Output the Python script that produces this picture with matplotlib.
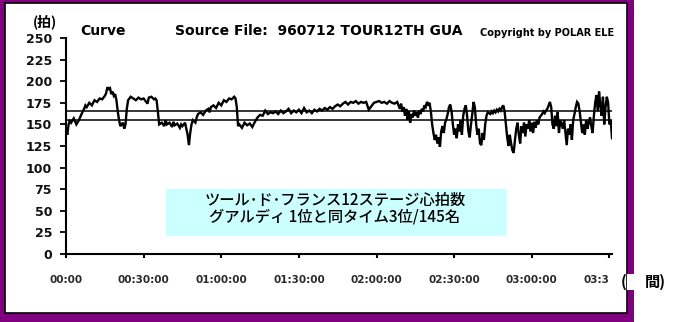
import matplotlib
matplotlib.use('Agg')
import matplotlib.pyplot as plt
from matplotlib.patches import Rectangle

# heart rate trace (elapsed minutes, beats per minute)
# first part: the steadier half of the stage
minutes_a = [
    0, 0.5, 1, 1.5, 2, 3, 4, 5, 6, 7, 7.5, 8, 9, 10, 11, 12, 13, 14, 15, 15.5,
    16, 16.5, 17, 17.5, 18, 18.5, 19, 19.5, 20, 20.5, 21, 21.5, 22, 22.5, 23, 23.5,
    24, 25, 26, 27, 28, 29, 30, 31, 31.5, 32, 33, 34, 34.5, 35, 35.5, 36, 37, 38,
    38.5, 39, 40, 41, 41.5, 42, 43, 44, 44.5, 45, 46, 46.5, 47, 47.5, 48, 48.5, 49,
    50, 50.5, 51, 52, 53, 54, 55, 55.5, 56, 57, 58, 59, 60, 61, 62, 63, 64, 65, 65.5,
    66, 66.5, 67, 68, 69, 70, 71, 72, 73, 74, 75, 76, 77, 78, 79, 80, 81, 82, 83,
    84, 85, 86, 87, 88, 89, 90, 91, 92, 93, 94, 95, 96, 97, 98, 99, 100, 101, 102,
    103, 104, 105, 106, 107, 108, 109, 110, 111, 112, 113, 114, 115, 116, 117, 118,
    119, 120, 121, 122, 123, 124, 125, 126, 127, 128,
]
bpm_a = [
    145, 138, 150, 155, 152, 157, 150, 155, 162, 168, 172, 170, 175, 172, 178, 176, 180, 179, 183, 186,
    193, 191, 192, 185, 188, 183, 185, 178, 165, 155, 148, 150, 152, 145, 150, 168,
    178, 182, 180, 178, 181, 179, 180, 176, 174, 181, 182, 179, 180, 178, 165, 150, 152, 148,
    155, 150, 152, 147, 153, 149, 151, 146, 150, 148, 152, 145, 138, 126, 140, 150, 155,
    152, 158, 162, 164, 161, 166, 168, 164, 170, 172, 169, 175, 172, 178, 176, 180, 179, 182, 180,
    170, 148, 150, 146, 152, 149, 151, 147, 153, 158, 161, 160, 166, 162, 164, 163, 165, 162, 166,
    163, 165, 168, 163, 166, 164, 167, 163, 169, 164, 166, 163, 167, 165, 168, 166, 169, 167, 170,
    168, 171, 173, 171, 174, 176, 173, 176, 175, 177, 174, 176, 175, 176, 167, 171,
    175, 176, 177, 175, 176, 174, 177, 175, 174, 176,
]
# second part: half-minute samples from 128.5 min to the finish
bpm_b = [
    172, 168, 174, 165, 170, 160, 168, 155, 165, 152,
    162, 158, 166, 160, 164, 158, 166, 162, 168, 165,
    172, 170, 176, 173, 175, 165, 150, 140, 132, 138,
    128, 135, 124, 142, 148, 140, 152, 156, 162, 170,
    173, 165, 150, 138, 145, 134, 150, 142, 155, 138,
    160, 168, 172, 160, 142, 135, 150, 162, 176, 170,
    150, 138, 145, 128, 126, 140, 132, 150, 160, 164,
    163, 162, 165, 163, 166, 164, 167, 165, 168, 166,
    170, 172, 165, 150, 135, 125, 138, 128, 120, 117,
    132, 145, 152, 138, 128, 148, 140, 152, 136, 150,
    145, 155, 142, 152, 140, 153, 146, 155, 150, 158,
    160, 162, 165, 163, 166, 168, 172, 176, 170, 150,
    145, 160, 148, 164, 140, 155, 150, 145, 155, 140,
    126, 145, 138, 150, 132, 155, 162, 170, 176, 174,
    165, 152, 140, 150, 138, 155, 145, 152, 158, 148,
    140, 160, 175, 184, 165, 188, 172, 160, 182, 150,
    170, 182, 175, 150, 155, 134,
]
minutes_b = [128.5 + 0.5 * i for i in range(len(bpm_b))]
minutes = minutes_a + minutes_b
bpm = bpm_a + bpm_b

limit_lines = [155, 165]
x_ticks = [0, 30, 60, 90, 120, 150, 180, 210]
x_labels = ['00:00', '00:30:00', '01:00:00', '01:30:00', '02:00:00',
            '02:30:00', '03:00:00', '03:3']
y_ticks = [0, 25, 50, 75, 100, 125, 150, 175, 200, 225, 250]

W, H = 678, 322
CJK = ['Noto Sans CJK JP', 'DejaVu Sans']


def fx(x):
    return x / W


def fy(y):
    return 1 - y / H


fig = plt.figure(figsize=(W / 100, H / 100), dpi=100, facecolor='white')

# purple frame and white panel
fig.patches.append(Rectangle((0, 0), fx(634), 1, transform=fig.transFigure,
                             facecolor='#800080', edgecolor='none', zorder=-3))
fig.patches.append(Rectangle((fx(5), fy(313)), fx(627) - fx(5), fy(3) - fy(313),
                             transform=fig.transFigure, facecolor='white',
                             edgecolor='black', lw=1.2, zorder=-2))

ax = fig.add_axes([fx(66), fy(254), fx(612) - fx(66), fy(38) - fy(254)])
ax.set_facecolor('none')
ax.plot(minutes, bpm, color='black', lw=1.7, solid_joinstyle='miter')
for v in limit_lines:
    ax.axhline(v, color='black', lw=1.1)

ax.set_xlim(0, 211)
ax.set_ylim(0, 250)
for s in ['top', 'right']:
    ax.spines[s].set_visible(False)
for s in ['left', 'bottom']:
    ax.spines[s].set_linewidth(1.5)
ax.set_yticks(y_ticks)
ax.set_yticklabels([str(v) for v in y_ticks], fontsize=9, fontweight='bold', color='#111111')
ax.set_xticks(x_ticks)
ax.set_xticklabels(x_labels, fontsize=7.5, fontweight='bold', color='#2a2a2a')
ax.get_xticklabels()[-1].set_ha('right')
ax.tick_params(axis='y', length=4, width=1.3, pad=6)
ax.tick_params(axis='x', length=3, width=1.5, pad=12)

# header
fig.text(fx(33), fy(22), '(拍)', family=CJK, fontsize=10, fontweight='bold', va='center')
fig.text(fx(80), fy(31), 'Curve', fontsize=10, fontweight='bold', va='center')
fig.text(fx(175), fy(31), 'Source File:  960712 TOUR12TH GUA', fontsize=10,
         fontweight='bold', va='center')
fig.text(fx(480), fy(33), 'Copyright by POLAR ELE', fontsize=7, fontweight='bold',
         va='center')

# caption box
fig.patches.append(Rectangle((fx(166), fy(236)), fx(507) - fx(166), fy(189) - fy(236),
                             transform=fig.transFigure, facecolor='#ccffff',
                             edgecolor='none', zorder=1))
fig.text(fx(335), fy(200), 'ツール･ド･フランス12ステージ心拍数', family=CJK,
         fontsize=11, fontweight='medium', ha='center', va='center')
fig.text(fx(335), fy(217), 'グアルディ 1位と同タイム3位/145名', family=CJK,
         fontsize=11, fontweight='medium', ha='center', va='center')

# x unit label sitting over the frame
fig.patches.append(Rectangle((fx(627), fy(290)), fx(634) - fx(627), fy(274) - fy(290),
                             transform=fig.transFigure, facecolor='white',
                             edgecolor='none', zorder=2))
fig.text(fx(621), fy(282), '(', family=CJK, fontsize=11, fontweight='bold', va='center')
fig.text(fx(645), fy(282), '間)', family=CJK, fontsize=11, fontweight='bold', va='center')

fig.savefig('out.png', dpi=100)
